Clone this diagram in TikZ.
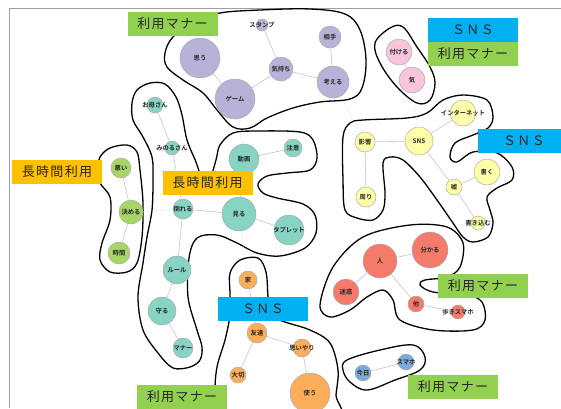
\documentclass[tikz,border=0pt]{standalone}
\usepackage{fontspec}
\setmainfont{Noto Sans CJK JP}[BoldFont={Noto Sans CJK JP Bold}]
\newfontfamily\labfont[LetterSpace=10]{Noto Sans CJK JP}
\definecolor{cpurp}{RGB}{183,179,216}
\definecolor{cpink}{RGB}{249,196,222}
\definecolor{cyel}{RGB}{255,255,170}
\definecolor{cteal}{RGB}{136,212,196}
\definecolor{cgreen}{RGB}{168,214,102}
\definecolor{cred}{RGB}{244,122,108}
\definecolor{corange}{RGB}{250,174,90}
\definecolor{cblue}{RGB}{124,170,214}
\definecolor{tgreen}{RGB}{146,208,80}
\definecolor{torange}{RGB}{255,192,0}
\definecolor{tblue}{RGB}{0,176,240}
\tikzset{
  nd/.style n args={3}{circle, fill=#1, draw=gray!65, line width=0.5pt, inner sep=0pt,
     minimum size=#2, label={[lfont]center:#3}},
  lfont/.style={font=\fontsize{6.3}{7}\selectfont\bfseries, inner sep=0pt, text=black!85},
  edge/.style={draw=gray!45, line width=0.6pt},
  xdot/.style={draw=gray!40, dotted, line width=0.6pt},
  blob/.style={draw=black, line width=1.3pt},
  tagbox/.style={fill=#1, inner sep=0pt, minimum width=90, minimum height=24,
     font=\labfont\fontsize{13}{14}\selectfont, text=black!85},
  framel/.style={draw=gray!75, line width=0.8pt}
}
\begin{document}
\begin{tikzpicture}[x=1pt,y=-1pt]
\useasboundingbox (0,0) rectangle (561,408);
\clip (0,0) rectangle (561,408);
\fill[white] (0,0) rectangle (561,408);
\draw[framel] (9,408) -- (9,8) -- (561,8);

% ---- blobs ----
\draw[blob] plot[smooth cycle, tension=0.6] coordinates {(220,13) (260,10) (310,9) (345,14) (360,30) (366,60) (362,88) (350,99) (320,102) (293,108) (267,118) (250,128) (233,127) (217,110) (203,93) (183,80) (167,67) (165,53) (173,37) (195,22)};
\draw[blob] plot[smooth cycle, tension=0.6] coordinates {(390,28) (375,43) (380,63) (397,87) (417,103) (430,100) (435,83) (430,67) (417,47) (403,27)};
\draw[blob] plot[smooth cycle, tension=0.55] coordinates {(343,137) (350,123) (363,120) (407,118) (427,113) (443,100) (463,95) (487,100) (493,117) (488,128) (473,135) (455,143) (450,157) (457,162) (473,152) (497,153) (512,167) (512,180) (497,188) (487,197) (490,210) (493,223) (488,237) (473,242) (463,237) (453,223) (437,200) (420,177) (403,160) (390,157) (383,163) (385,193) (383,210) (373,220) (357,218) (345,210) (343,180)};
\draw[blob] plot[smooth cycle, tension=0.55] coordinates {(333,267) (363,237) (410,225) (447,227) (463,243) (460,267) (447,277) (425,280) (420,285) (433,292) (467,295) (482,302) (485,320) (473,330) (433,330) (400,320) (393,300) (383,290) (367,297) (350,310) (330,317) (320,305)};
\draw[blob] plot[smooth cycle, tension=0.6] coordinates {(347,360) (380,350) (413,345) (425,357) (420,370) (395,380) (367,390) (350,382) (343,370)};
\draw[blob] plot[smooth cycle, tension=0.55] coordinates {(240,260) (258,258) (266,272) (268,297) (270,315) (285,322) (310,330) (330,343) (338,370) (336,395) (334,420) (218,420) (215,393) (217,367) (225,340) (230,315) (230,293) (230,273)};
\draw[blob] plot[smooth cycle, tension=0.55] coordinates {(150,83) (165,84) (176,97) (182,115) (187,140) (196,162) (202,178) (210,178) (216,160) (220,145) (233,133) (257,131) (300,132) (313,140) (317,158) (310,170) (287,173) (267,176) (258,184) (263,193) (277,198) (303,204) (315,215) (316,233) (305,248) (280,256) (257,253) (237,243) (217,235) (197,238) (189,258) (188,297) (197,330) (202,347) (200,360) (190,367) (173,368) (158,353) (143,330) (138,297) (143,263) (147,237) (152,210) (153,180) (152,157) (143,137) (133,120) (132,103) (137,90)};
\draw[blob] plot[smooth cycle, tension=0.55] coordinates {(110,148) (127,145) (137,152) (140,170) (143,203) (142,237) (137,263) (127,272) (110,272) (100,260) (102,243) (110,220) (110,197) (100,183) (98,170) (100,157)};

% ---- nodes ----
\node[nd={cpurp}{12}{スタンプ}] (stamp) at (262,25) {};
\node[nd={cpurp}{22}{相手}] (aite) at (330,37) {};
\node[nd={cpurp}{40}{思う}] (omou) at (200,58) {};
\node[nd={cpurp}{24}{気持ち}] (kimochi) at (281,69) {};
\node[nd={cpurp}{32}{考える}] (kangaeru) at (333,82) {};
\node[nd={cpurp}{40}{ゲーム}] (game) at (235,99) {};

\node[nd={cpink}{26}{付ける}] (tsukeru) at (399,52) {};
\node[nd={cpink}{26}{気}] (ki) at (412,80) {};

\node[nd={cyel}{26}{インターネット}] (inet) at (463,113) {};
\node[nd={cyel}{20}{影響}] (eikyo) at (365,142) {};
\node[nd={cyel}{28}{SNS}] (sns) at (419,141) {};
\node[nd={cyel}{26}{書く}] (kaku) at (487,172) {};
\node[nd={cyel}{16}{嘘}] (uso) at (454,187) {};
\node[nd={cyel}{20}{周り}] (mawari) at (366,197) {};
\node[nd={cyel}{14}{書き込む}] (kakikomu) at (478,223) {};

\node[nd={cred}{36}{分かる}] (wakaru) at (430,250) {};
\node[nd={cred}{34}{人}] (hito) at (380,261) {};
\node[nd={cred}{26}{迷惑}] (meiwaku) at (346,292) {};
\node[nd={cred}{16}{他}] (hoka) at (416,304) {};
\node[nd={cred}{14}{歩きスマホ}] (aruki) at (458,312) {};

\node[nd={cblue}{16}{今日}] (kyou) at (363,373) {};
\node[nd={cblue}{16}{スマホ}] (sumaho) at (406,362) {};

\node[nd={corange}{18}{家}] (ie) at (248,280) {};
\node[nd={corange}{20}{友達}] (tomo) at (257,333) {};
\node[nd={corange}{18}{思いやり}] (omoiyari) at (302,348) {};
\node[nd={corange}{16}{大切}] (taisetsu) at (238,375) {};
\node[nd={corange}{40}{使う}] (tsukau) at (310,393) {};

\node[nd={cteal}{18}{注意}] (chui) at (293,148) {};
\node[nd={cteal}{30}{動画}] (doga) at (244,159) {};
\node[nd={cteal}{16}{お母さん}] (okaasan) at (155,105) {};
\node[nd={cteal}{14}{みのるさん}] (minoru) at (172,148) {};
\node[nd={cteal}{20}{倒れる}] (taoreru) at (183,209) {};
\node[nd={cteal}{34}{見る}] (miru) at (239,214) {};
\node[nd={cteal}{30}{タブレット}] (tablet) at (289,230) {};
\node[nd={cteal}{28}{ルール}] (rule) at (177,270) {};
\node[nd={cteal}{28}{守る}] (mamoru) at (162,311) {};
\node[nd={cteal}{20}{マナー}] (manner) at (183,348) {};

\node[nd={cgreen}{20}{悪い}] (warui) at (121,168) {};
\node[nd={cgreen}{24}{決める}] (kimeru) at (131,212) {};
\node[nd={cgreen}{22}{時間}] (jikan) at (119,253) {};

% ---- edges ----
\foreach \a/\b in {stamp/kimochi, omou/game, game/kimochi, kimochi/kangaeru, aite/kangaeru,
  tsukeru/ki, eikyo/sns, sns/inet, sns/uso, uso/kaku, uso/kakikomu, eikyo/mawari,
  hito/wakaru, hito/meiwaku, hito/hoka, hoka/aruki, kyou/sumaho,
  ie/tomo, tomo/omoiyari, tomo/taisetsu, omoiyari/tsukau,
  okaasan/minoru, minoru/taoreru, taoreru/miru, miru/doga, doga/chui, miru/tablet,
  taoreru/rule, rule/mamoru, mamoru/manner, warui/kimeru, kimeru/jikan}
  \draw[edge] (\a) -- (\b);
\foreach \a/\b in {game/doga, kangaeru/eikyo, ki/sns, mawari/hito, kimeru/taoreru, miru/ie}
  \draw[xdot] (\a) -- (\b);

% ---- tag boxes ----
\node[tagbox=tgreen] (tA) at (172.5,24) {利用マナー};
\node[tagbox=tblue] (tB) at (473,30) {ＳＮＳ};
\node[tagbox=tgreen] (tC) at (473,54) {利用マナー};
\node[tagbox=tblue, minimum width=92] (tD) at (524,141) {ＳＮＳ};
\node[tagbox=torange] (tE) at (57,171.5) {長時間利用};
\node[tagbox=torange] (tF) at (207.5,183) {長時間利用};
\node[tagbox=tblue] (tG) at (263,309) {ＳＮＳ};
\node[tagbox=tgreen] (tH) at (182,397) {利用マナー};
\node[tagbox=tgreen] (tI) at (483,285.5) {利用マナー};
\node[tagbox=tgreen] (tJ) at (453,387) {利用マナー};
\end{tikzpicture}
\end{document}
